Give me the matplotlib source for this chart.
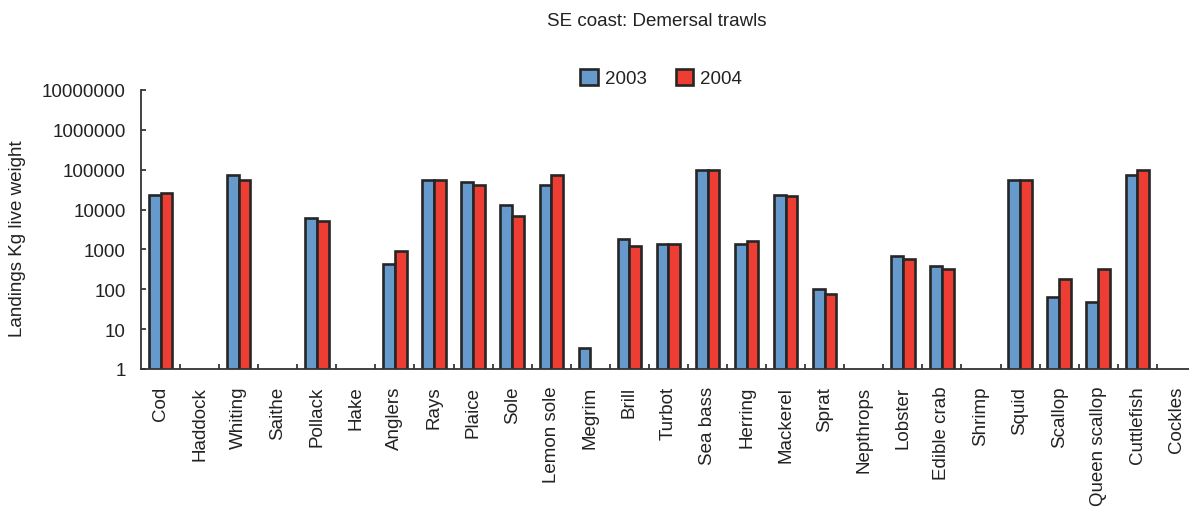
import numpy as np
import matplotlib
matplotlib.use("Agg")
import matplotlib.pyplot as plt
from matplotlib.ticker import FixedLocator

plt.rcParams['font.family'] = ['Liberation Sans', 'DejaVu Sans']

species = ["Cod", "Haddock", "Whiting", "Saithe", "Pollack", "Hake", "Anglers",
           "Rays", "Plaice", "Sole", "Lemon sole", "Megrim", "Brill", "Turbot",
           "Sea bass", "Herring", "Mackerel", "Sprat", "Nepthrops", "Lobster",
           "Edible crab", "Shrimp", "Squid", "Scallop", "Queen scallop",
           "Cuttlefish", "Cockles"]

nan = np.nan
landings_2003 = [23000, nan, 73000, nan, 6000, nan, 430,
                 55000, 48000, 12900, 42000, 3.4, 1880, 1390,
                 99000, 1390, 23000, 100, nan, 670,
                 377, nan, 56000, 65, 49,
                 74000, nan]
landings_2004 = [26500, nan, 55000, nan, 5300, nan, 900,
                 55000, 42000, 7000, 74000, nan, 1210, 1390,
                 99000, 1670, 22500, 75, nan, 590,
                 330, nan, 56000, 182, 330,
                 98000, nan]

years = ["2003", "2004"]
y_ticks = [1, 10, 100, 1000, 10000, 100000, 1000000, 10000000]
y_tick_labels = ["1", "10", "100", "1000", "10000", "100000", "1000000", "10000000"]

title = "SE coast: Demersal trawls"
y_label = "Landings Kg live weight"

BLUE = "#6699CC"
RED = "#EE3D33"
EDGE = "#262626"
TEXT = "#222222"
FS = 13.5

W, H = 1189, 510
fig = plt.figure(figsize=(W / 100, H / 100), dpi=100)
ax = fig.add_axes([141 / W, (H - 370) / H, 27 * 39.07 / W, 279 / H])

x = np.arange(len(species))
bw = 0.3
ax.bar(x - bw / 2, landings_2003, width=bw, color=BLUE, edgecolor=EDGE,
       linewidth=1.9, label=years[0], zorder=2)
ax.bar(x + bw / 2, landings_2004, width=bw, color=RED, edgecolor=EDGE,
       linewidth=1.9, label=years[1], zorder=2)

ax.set_yscale("log")
ax.set_ylim(1, 1e7)
ax.set_xlim(-0.5, len(species) - 0.5)

ax.yaxis.set_major_locator(FixedLocator(y_ticks))
ax.set_yticklabels(y_tick_labels)
ax.yaxis.set_minor_locator(FixedLocator([]))
ax.tick_params(axis="y", which="major", direction="in", length=3.6,
               width=1.2, color=EDGE, pad=11, labelsize=FS, labelcolor=TEXT)

ax.set_xticks(x)
ax.set_xticklabels(species, rotation=90, fontsize=FS, color=TEXT)
ax.set_xticks(np.arange(len(species)) + 0.5, minor=True)
ax.tick_params(axis="x", which="major", length=0, pad=12)
ax.tick_params(axis="x", which="minor", direction="in", length=3.6,
               width=1.2, color=EDGE)

for side in ("top", "right"):
    ax.spines[side].set_visible(False)
for side in ("left", "bottom"):
    ax.spines[side].set_color("#333333")
    ax.spines[side].set_linewidth(1.3)

fig.text(657 / W, 1 - 22 / H, title, ha="center", va="center",
         fontsize=FS, color=TEXT)
fig.text(18 / W, 1 - 239 / H, y_label, rotation=90, ha="center",
         va="center", fontsize=FS, color=TEXT)

fig.legend(loc="center", bbox_to_anchor=(661 / W, 1 - 79 / H), ncol=2,
           frameon=False, fontsize=FS, handlelength=0.95, handleheight=0.95,
           handletextpad=0.35, columnspacing=1.55, labelcolor=TEXT)

fig.savefig("out.png", dpi=100)
